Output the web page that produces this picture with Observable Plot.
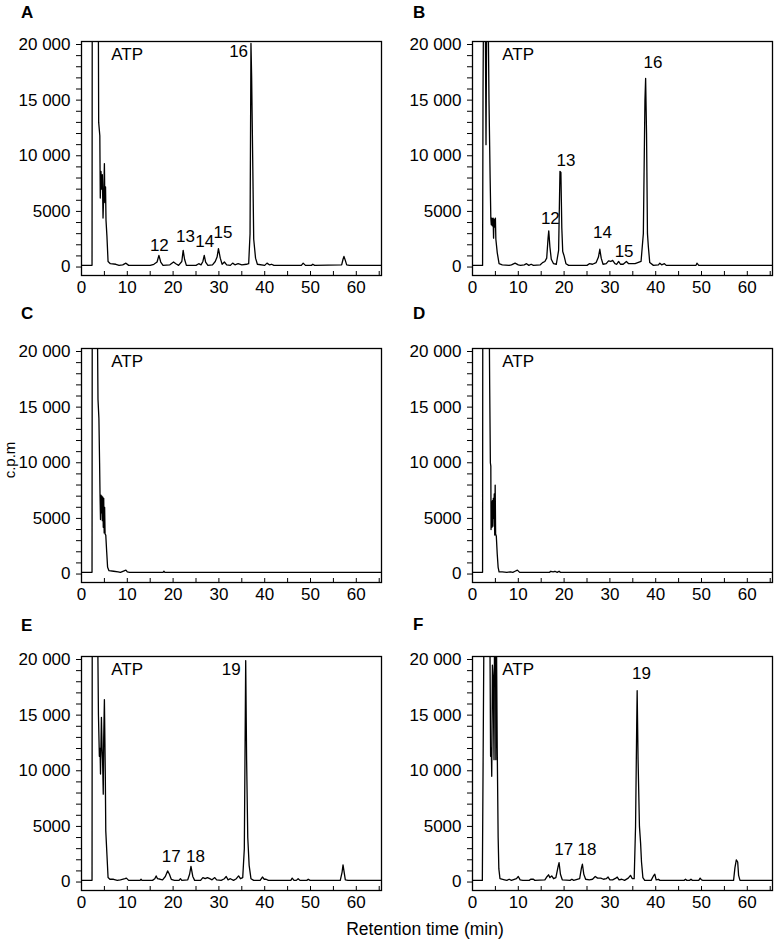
<!DOCTYPE html>
<html><head><meta charset="utf-8">
<script src="https://cdn.jsdelivr.net/npm/d3@7"></script>
<script src="https://cdn.jsdelivr.net/npm/@observablehq/plot@0.6"></script>
<style>
html,body{margin:0;padding:0;background:#fff;overflow:hidden}
#root{position:relative;width:775px;height:942px;font-family:"Liberation Sans",Arial,Helvetica,sans-serif}
#root svg.panel{position:absolute}
#overlay{position:absolute;left:0;top:0;pointer-events:none}
</style></head>
<body><div id="root"></div>
<script>
// ---- data (retention time in min, c.p.m.) ----
const panelNames = ["A","B","C","D","E","F"];
const xTickLabels = [0,10,20,30,40,50,60];
const xMinorTicks = [5,10,15,20,25,30,35,40,45,50,55,60,65];
const yTicks = d3.range(0, 20001, 1000);
const xDomain = [0, 65.5];
const yDomain = [-760, 20270];

const traceA = [[0,150],[2.3,150],[2.35,26000],[3.65,26000],[3.75,13000],[4.0,11800],[4.1,6200],[4.25,8600],[4.4,7000],[4.55,8300],[4.7,4400],[4.85,6500],[5.0,9300],[5.1,5800],[5.25,7200],[5.35,4200],[5.55,2800],[5.8,500],[6.3,300],[7.5,250],[8.2,150],[9.0,200],[9.7,350],[10.3,150],[15.0,150],[15.8,250],[16.5,450],[16.9,1050],[17.3,450],[17.8,150],[19.3,200],[20.1,450],[20.6,300],[21.2,150],[21.9,500],[22.2,1500],[22.5,700],[22.9,150],[25.0,150],[25.6,300],[26.1,200],[26.5,500],[26.8,1050],[27.1,450],[27.6,150],[28.6,200],[29.2,500],[29.6,900],[29.9,1650],[30.3,800],[30.7,250],[31.2,450],[31.7,200],[32.5,150],[33.0,350],[33.5,200],[34.2,300],[35.0,200],[36.0,250],[36.5,300],[36.8,3000],[37.0,20100],[37.15,17000],[37.4,9000],[37.6,2500],[38.0,800],[38.4,250],[40.0,150],[40.5,350],[41.0,200],[41.5,250],[42.0,150],[48.0,150],[48.4,350],[48.9,150],[50.2,150],[50.5,250],[50.9,150],[56.8,200],[57.1,700],[57.3,950],[57.6,600],[57.9,200],[58.5,150],[65.5,150]];
const traceB = [[0,150],[2.2,150],[2.3,16000],[2.45,26000],[2.75,26000],[2.95,11000],[3.15,26000],[3.35,26000],[3.6,15000],[3.85,8000],[4.0,4400],[4.1,3800],[4.2,4400],[4.35,3700],[4.5,4400],[4.6,2600],[4.7,4300],[4.85,3600],[5.0,4400],[5.1,2500],[5.4,1300],[5.8,300],[6.5,200],[8.0,150],[8.5,200],[9.3,350],[10.0,200],[10.5,150],[11.3,200],[11.8,300],[12.3,150],[12.8,250],[13.3,150],[14.8,200],[15.3,400],[15.8,500],[16.2,800],[16.5,2600],[16.65,3250],[16.9,1800],[17.2,700],[17.7,300],[18.3,250],[18.8,1500],[19.1,8600],[19.3,8500],[19.5,3500],[19.7,1400],[20.0,1000],[20.4,300],[21.0,150],[25.0,150],[25.5,300],[26.2,250],[27.0,400],[27.5,900],[27.8,1600],[28.1,800],[28.5,250],[29.2,300],[29.7,550],[30.2,500],[30.6,600],[31.1,300],[31.5,250],[31.9,500],[32.3,250],[32.9,250],[33.6,500],[34.1,300],[35.5,300],[36.8,500],[37.3,3000],[37.65,15000],[37.8,16950],[38.0,12000],[38.2,3000],[38.4,1800],[38.7,400],[39.5,150],[40.6,200],[40.9,350],[41.3,200],[41.9,300],[42.3,150],[48.8,150],[49.0,350],[49.4,150],[65.5,150]];
const traceC = [[0,150],[2.3,150],[2.35,26000],[3.4,26000],[3.6,15700],[3.8,14000],[3.95,10000],[4.05,7000],[4.15,4900],[4.25,7100],[4.35,5500],[4.45,7000],[4.55,4800],[4.65,6900],[4.75,4200],[4.85,6800],[4.95,3700],[5.05,6000],[5.15,3600],[5.3,3500],[5.5,2000],[5.7,600],[6.0,300],[7.0,250],[8.0,200],[8.5,150],[9.7,350],[10.0,200],[10.5,150],[17.8,150],[18.0,250],[18.2,150],[65.5,150]];
const traceD = [[0,150],[2.2,150],[2.25,26000],[3.6,26000],[3.75,17000],[3.9,10000],[4.0,9700],[4.05,4000],[4.15,6500],[4.25,4200],[4.35,6600],[4.45,4300],[4.55,6800],[4.65,5000],[4.75,7200],[4.85,3500],[4.95,8000],[5.05,3600],[5.2,3400],[5.4,1800],[5.6,600],[5.8,200],[6.5,200],[7.5,150],[8.3,200],[8.8,150],[9.3,250],[9.8,350],[10.3,150],[16.8,150],[17.1,250],[17.6,200],[18.0,250],[18.5,150],[18.9,250],[19.2,150],[65.5,150]];
const traceE = [[0,150],[2.3,150],[2.35,26000],[3.45,26000],[3.7,15000],[3.9,11300],[4.05,12000],[4.15,9700],[4.35,14800],[4.5,12000],[4.6,11000],[4.75,7900],[4.85,13000],[5.0,16400],[5.2,9500],[5.3,4600],[5.55,2500],[5.8,400],[6.2,250],[7.0,250],[7.8,150],[8.5,200],[9.5,300],[9.8,350],[10.3,150],[12.8,150],[13.0,250],[13.2,150],[15.5,150],[16.0,300],[16.3,550],[16.6,300],[17.2,250],[17.7,200],[18.3,500],[18.8,1000],[19.2,700],[19.6,250],[20.3,150],[21.3,150],[21.6,300],[21.9,150],[23.2,200],[23.6,700],[23.9,1400],[24.3,500],[24.7,150],[26.0,150],[26.5,400],[27.0,300],[27.5,400],[28.0,300],[28.5,200],[29.1,400],[29.5,200],[30.5,150],[31.2,300],[31.6,500],[32.0,200],[32.5,300],[33.2,150],[33.8,300],[34.3,550],[34.7,300],[35.2,400],[35.55,3000],[35.85,19900],[36.05,11000],[36.3,4000],[36.6,1500],[37.0,300],[37.6,150],[39.0,150],[39.5,450],[39.9,250],[40.3,250],[40.8,150],[45.7,150],[46.0,350],[46.4,150],[46.9,150],[47.3,300],[47.7,150],[49.2,150],[49.5,250],[49.9,150],[56.5,150],[56.9,900],[57.1,1550],[57.3,1000],[57.6,200],[58.2,150],[65.5,150]];
const traceF = [[0,150],[2.15,150],[2.55,26000],[3.75,26000],[3.95,11300],[4.1,12000],[4.2,9500],[4.35,19500],[4.5,18500],[4.7,11000],[4.85,26000],[5.0,26000],[5.1,11000],[5.2,24000],[5.4,12000],[5.6,4000],[5.75,1200],[6.0,300],[7.0,200],[7.5,150],[8.0,250],[8.5,150],[9.6,300],[10.0,500],[10.4,200],[11.0,150],[12.4,150],[12.7,250],[13.3,250],[13.6,150],[15.8,200],[16.3,500],[16.6,650],[16.9,400],[17.3,550],[17.7,300],[18.2,400],[18.7,1400],[18.9,1750],[19.2,700],[19.6,200],[21.3,150],[21.7,250],[22.1,150],[23.4,300],[23.8,1300],[24.0,1600],[24.3,700],[24.7,250],[25.5,200],[26.2,250],[26.8,500],[27.3,350],[28.0,350],[28.6,250],[29.2,300],[29.6,450],[30.0,200],[30.6,200],[31.3,350],[31.6,450],[32.0,200],[32.6,250],[33.2,150],[34.0,350],[34.5,600],[34.9,300],[35.3,300],[35.6,5000],[35.85,14000],[35.95,17200],[36.15,11000],[36.45,5000],[36.7,3500],[36.9,1800],[37.2,400],[37.6,150],[39.0,150],[39.5,550],[39.8,700],[40.1,200],[40.6,250],[40.9,150],[46.2,150],[46.5,250],[46.8,150],[47.4,150],[47.7,250],[48.0,150],[49.4,150],[49.7,350],[50.0,200],[50.3,150],[57.0,150],[57.3,1300],[57.6,2000],[57.9,1800],[58.1,600],[58.4,150],[65.5,150]];

// peak labels: [text, time, cpm]
const labelsA = [["12",17.0,1930],["13",22.7,2740],["14",26.9,2320],["15",30.9,3100],["16",34.3,19400]];
const labelsB = [["12",17.0,4330],["13",20.4,9570],["14",28.4,3070],["15",33.1,1420],["16",39.4,18360]];
const labelsC = [];
const labelsD = [];
const labelsE = [["17",19.6,2310],["18",24.9,2310],["19",32.7,19100]];
const labelsF = [["17",19.9,2880],["18",25.0,2880],["19",36.9,18730]];
const atpLabel = ["ATP", 6.5, 19100];

const traces = [traceA, traceB, traceC, traceD, traceE, traceF];
const labelSets = [labelsA, labelsB, labelsC, labelsD, labelsE, labelsF];

// ---- layout ----
const FONT = '"Liberation Sans", Arial, Helvetica, sans-serif';
const colLeft = [0, 391];
const rowTop = [0, 307, 615];

function fmtY(d) {
  if (d % 5000) return "";
  return d >= 10000 ? d3.format(",")(d).replace(",", " ") : String(d);
}

const root = document.getElementById("root");

traces.forEach((trace, i) => {
  const col = i % 2, row = Math.floor(i / 2);
  const data = trace.map(([t, c]) => ({t, c}));
  const labels = labelSets[i].map(([text, t, c]) => ({text, t, c}));
  const right = col === 1;
  const svg = Plot.plot({
    width: right ? 383 : 387,
    height: 300,
    marginLeft: 81,
    marginRight: right ? 2 : 6,
    marginTop: 41,
    marginBottom: 25,
    style: {fontFamily: FONT, fontSize: "17px", color: "black", background: "transparent", overflow: "visible"},
    x: {domain: xDomain},
    y: {domain: yDomain},
    marks: [
      Plot.line(data, {x: "t", y: "c", stroke: "black", strokeWidth: 1.3, clip: true}),
      Plot.tickX(xMinorTicks, {x: d => d, insetTop: 230, stroke: "black", strokeWidth: 1}),
      Plot.axisX({ticks: xTickLabels, tickSize: 0, tickPadding: 5, label: null, fontSize: 17, fontVariant: "normal"}),
      Plot.axisY({ticks: yTicks, tickSize: 5, tickPadding: 6, tickFormat: fmtY, label: null, fontSize: 17, fontVariant: "normal"}),
      Plot.text([atpLabel], {x: d => d[1], y: d => d[2], text: d => d[0], textAnchor: "start", fontSize: 17, fill: "black"}),
      Plot.text(labels, {x: "t", y: "c", text: "text", fontSize: 17, fill: "black"}),
      Plot.frame({stroke: "black", strokeWidth: 1.3})
    ]
  });
  svg.classList.add("panel");
  svg.style.left = colLeft[col] + "px";
  svg.style.top = rowTop[row] + "px";
  root.appendChild(svg);
});

// ---- overlay text: panel letters and axis titles ----
const letterPos = [[21,18],[413,18],[21,319],[413,319],[21,631],[413,630]];
const ov = d3.select(root).append("svg").attr("id","overlay").attr("width",775).attr("height",942)
  .style("font-family", FONT);
ov.selectAll("text.letter").data(panelNames).join("text").attr("class","letter")
  .attr("x", (d,i) => letterPos[i][0]).attr("y", (d,i) => letterPos[i][1])
  .attr("font-size", 17).attr("font-weight", "bold").text(d => d);
ov.append("text").attr("transform","translate(15,460) rotate(-90)")
  .attr("text-anchor","middle").attr("font-size",15).text("c.p.m");
ov.append("text").attr("x",425).attr("y",935).attr("text-anchor","middle")
  .attr("font-size",17.5).text("Retention time (min)");
</script>
</body></html>
